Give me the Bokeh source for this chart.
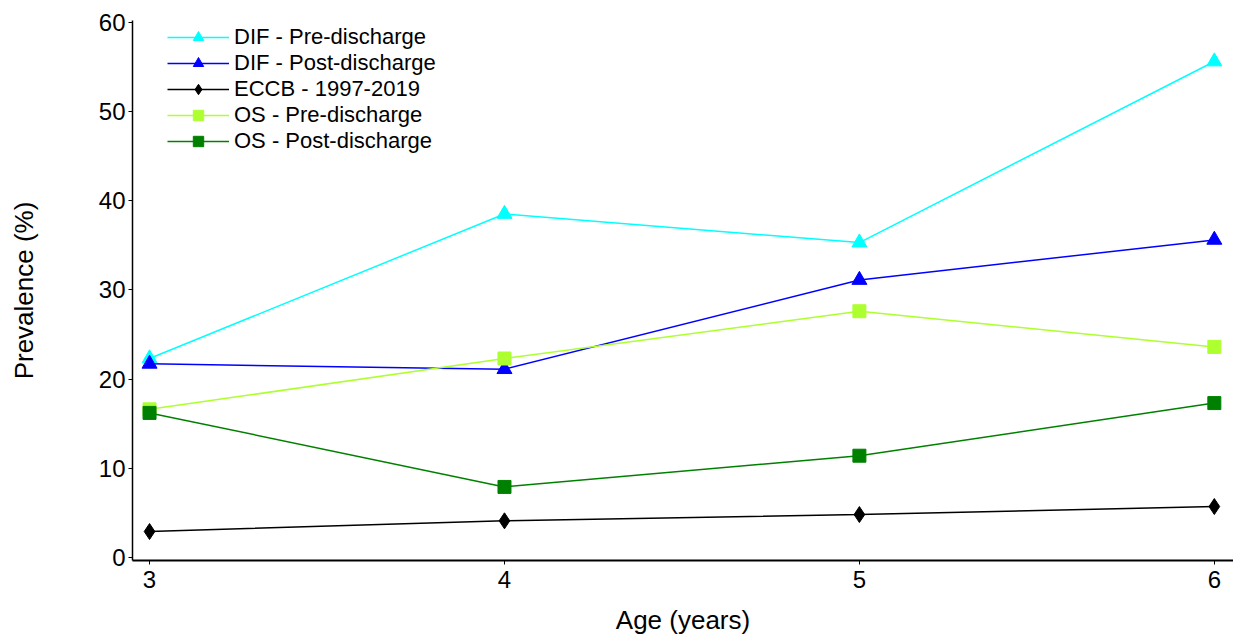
from bokeh.plotting import figure
from bokeh.embed import file_html
from bokeh.resources import INLINE
from bokeh.models import Range1d, FixedTicker, Legend, LegendItem

ages = [3, 4, 5, 6]
dif_pre = [22.3, 38.5, 35.3, 55.6]
dif_post = [21.7, 21.1, 31.1, 35.6]
eccb = [2.9, 4.1, 4.8, 5.7]
os_pre = [16.6, 22.3, 27.6, 23.6]
os_post = [16.2, 7.9, 11.4, 17.3]

series = [
    ("DIF - Pre-discharge", dif_pre, "#00FFFF", "triangle"),
    ("DIF - Post-discharge", dif_post, "#0000FF", "triangle"),
    ("ECCB - 1997-2019", eccb, "#000000", "diamond"),
    ("OS - Pre-discharge", os_pre, "#ADFF2F", "square"),
    ("OS - Post-discharge", os_post, "#008000", "square"),
]

FONT = "Liberation Sans"

p = figure(width=1233, height=637, output_backend="svg", toolbar_location=None,
           x_range=Range1d(2.952, 6.054), y_range=Range1d(-0.35, 60.2),
           min_border_left=132, min_border_right=0, min_border_top=20, min_border_bottom=75)
p.xgrid.visible = False
p.ygrid.visible = False
p.outline_line_color = None
p.background_fill_color = "white"

items = []
sizes = {"triangle": 15, "diamond": 16, "square": 13}
for name, vals, color, marker in series:
    r1 = p.line(ages, vals, line_color=color, line_width=1.5)
    r2 = p.scatter(ages, vals, marker=marker, size=sizes[marker], fill_color=color, line_color=color)
    items.append(LegendItem(label=name, renderers=[r1, r2]))

legend = Legend(items=items, location=(35, 542 - 138 + 2), padding=4, spacing=0,
                label_height=26, glyph_height=26, glyph_width=62, label_standoff=5,
                label_text_font=FONT, label_text_font_size="22px", label_text_color="black",
                background_fill_alpha=0, border_line_color=None, margin=0)
p.add_layout(legend)

p.xaxis.ticker = FixedTicker(ticks=ages)
p.yaxis.ticker = FixedTicker(ticks=[0, 10, 20, 30, 40, 50, 60])
for ax in (p.xaxis, p.yaxis):
    ax.major_label_text_font = FONT
    ax.major_label_text_font_size = "24px"
    ax.axis_label_text_font = FONT
    ax.axis_label_text_font_size = "26px"
    ax.axis_label_text_font_style = "normal"
    ax.minor_tick_line_color = None
    ax.major_tick_in = 0
    ax.major_tick_out = 4
    ax.axis_line_color = "black"
    ax.major_tick_line_color = "black"
    ax.major_label_text_color = "black"
    ax.axis_label_text_color = "black"
p.xaxis.axis_line_width = 2
p.yaxis.axis_line_width = 1.5
p.xaxis.axis_label = "Age (years)"
p.yaxis.axis_label = "Prevalence (%)"
p.yaxis.major_label_standoff = 3
p.xaxis.major_label_standoff = 6
p.yaxis.axis_label_standoff = 57
p.xaxis.axis_label_standoff = 14

open("out.html", "w").write(file_html(p, INLINE))
